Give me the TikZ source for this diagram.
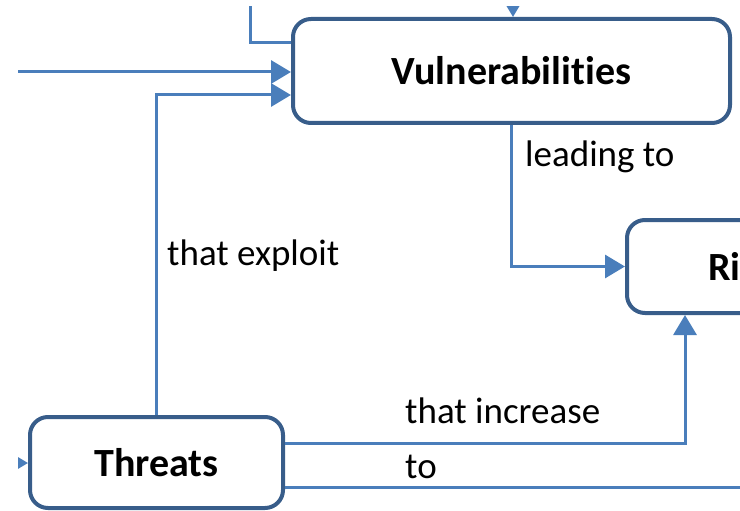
\documentclass[tikz,border=0pt]{standalone}
\usepackage{fontspec}
\setmainfont{Carlito}[Ligatures=NoCommon]
\usetikzlibrary{arrows.meta,calc}
\definecolor{boxline}{HTML}{385D8A}
\definecolor{linkline}{HTML}{4A7EBB}
\tikzset{
  box/.style={draw=boxline, line width=4pt, rounded corners=18pt, fill=white,
    font=\bfseries\fontsize{40}{48}\selectfont, inner sep=0pt},
  boxtext/.style={font=\bfseries\fontsize{40}{48}\selectfont, inner sep=0pt},
  link/.style={draw=linkline, line width=3pt},
  arrow/.style={link, -{Triangle[length=20pt,width=23pt]}},
  lbl/.style={font=\fontsize{37}{44}\selectfont, anchor=base west, inner sep=0pt},
}
\begin{document}
\begin{tikzpicture}[x=1pt,y=-1pt]
\useasboundingbox (0,0) rectangle (740,511);
\clip (18,7) rectangle (740,511);

% boxes
\node[box, minimum width=437pt, minimum height=104pt] (vul) at (511.5,71) {Vulnerabilities};
\node[box, minimum width=253pt, minimum height=91pt] (thr) at (156.5,462.5) {Threats};
\node[box, anchor=west, minimum width=300pt, minimum height=93pt] (risk) at (625,266.5) {};
\node[boxtext, anchor=base west] (risktext) at (708,280) {Ri};

% free ends of the connectors leaving the frame
\coordinate (topin)  at (250,-5);
\coordinate (leftin) at (-5,72);
\coordinate (vtop)   at (513,-20);
\coordinate (tin)    at (-10,463);
\coordinate (tout)   at (760,487.5);

% connectors
\draw[link]  (topin) |- ([yshift=28pt]vul.west);
\draw[arrow] (leftin) -- (leftin -| vul.west);
\draw[arrow] (vtop) -- (vtop |- vul.north);
\draw[arrow] (thr.north) |- ([yshift=-24pt]vul.west);
\draw[arrow] (vul.south) |- (risk.west);
\draw[arrow] ([yshift=19pt]thr.east) -| ([xshift=60pt]risk.south west);
\draw[link]  ([yshift=-25pt]thr.east) -- (tout);
\draw[arrow] (tin) -- (tin -| thr.west);

% connector labels
\node[lbl] (lead) at (525,167) {leading to};
\node[lbl] (expl) at (167,265) {that exploit};
\node[lbl] (incr) at (405,423) {that increase};
\node[lbl] (to)   at (405,478) {to};
\end{tikzpicture}
\end{document}
